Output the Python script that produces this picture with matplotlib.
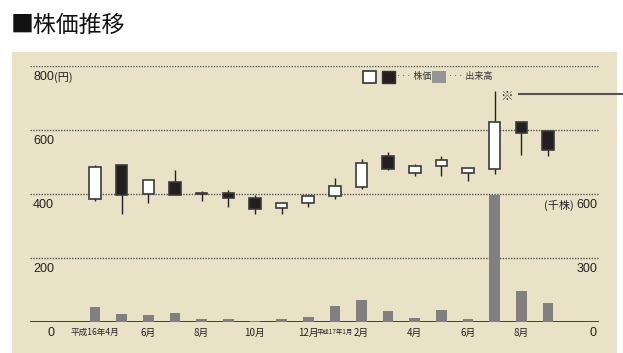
# Stock price (monthly candles) with volume bars, Heisei 16/4 - 17/9
import matplotlib
matplotlib.use("Agg")
import matplotlib.pyplot as plt
import matplotlib.transforms as mtrans
from matplotlib.patches import Rectangle

plt.rcParams['font.family'] = ['Liberation Sans Narrow', 'Liberation Sans', 'Noto Sans CJK JP', 'DejaVu Sans']

# monthly OHLC (yen) and volume (thousand shares)
opens  = [383, 490, 399, 438, 404, 404, 387, 355, 373, 393, 423, 518, 467, 487, 467, 477, 626, 596]
highs  = [490, 490, 445, 475, 409, 412, 397, 373, 394, 449, 509, 530, 495, 520, 480, 722, 626, 596]
lows   = [379, 337, 373, 397, 378, 360, 338, 338, 360, 383, 417, 474, 457, 457, 442, 463, 521, 519]
closes = [485, 397, 445, 397, 401, 387, 353, 373, 394, 426, 497, 478, 489, 505, 480, 625, 592, 537]
volume = [70, 37, 33, 42, 14, 14, 5, 14, 23, 75, 103, 52, 19, 56, 14, 595, 145, 89]

month_pos = [0, 2, 4, 6, 8, 9, 10, 12, 14, 16]
month_lbl = ['平成16年4月', '6月', '8月', '10月', '12月', '平成17年1月', '2月', '4月', '6月', '8月']

price_ticks = [0, 200, 400, 600, 800]
vol_ticks = [0, 300, 600]

W, H = 623, 353
fig = plt.figure(figsize=(W / 100, H / 100), dpi=100)

# background layer in pixel coordinates
bg = fig.add_axes([0, 0, 1, 1], zorder=0)
bg.set_xlim(0, W)
bg.set_ylim(H, 0)
bg.axis('off')
bg.add_patch(Rectangle((12, 52), 605, 301, facecolor='#e9e2c6', edgecolor='none'))
bg.text(11, 25, '■株価推移', fontsize=16.5, va='center', ha='left',
        family=['Noto Sans CJK JP'], color='#111111')

# legend
bg.add_patch(Rectangle((362.5, 70.5), 13.5, 12, facecolor='white', edgecolor='#333333', lw=1.2))
bg.add_patch(Rectangle((381.5, 70.5), 13.5, 12, facecolor='#231f20', edgecolor='#333333', lw=1.0))
bg.text(396.5, 77, '··· 株価', fontsize=6.5, va='center', ha='left', color='#333333',
        family=['Noto Sans CJK JP'])
bg.add_patch(Rectangle((432, 70.5), 13.5, 12, facecolor='#959595', edgecolor='none'))
bg.text(447.5, 77, '··· 出来高', fontsize=6.5, va='center', ha='left', color='#333333',
        family=['Noto Sans CJK JP'])

# main axes
x0, x1, step, c0 = 30, 599, 26.65, 95
ax = fig.add_axes([x0 / W, (H - 322) / H, (x1 - x0) / W, (322 - 66) / H], zorder=2)
ax.patch.set_alpha(0)
ax.set_xlim((x0 - c0) / step, (x1 - c0) / step)
ax.set_ylim(0, 800)
for s in ax.spines.values():
    s.set_visible(False)
ax.set_yticks([])

vax = ax.twinx()
vax.set_ylim(0, 1200)
vax.axis('off')
vax.bar(range(len(volume)), volume, width=0.40, color='#808080', zorder=1)

for y in price_ticks[1:]:
    ax.axhline(y, color='#555555', lw=1.0, ls=(0, (1, 1)), zorder=0)
ax.axhline(0, color='#333333', lw=1.3, zorder=3)

xs = list(range(len(opens)))
ax.vlines(xs, lows, highs, color='#222222', lw=1.0, zorder=2)
for i in xs:
    up = closes[i] >= opens[i]
    lo = min(opens[i], closes[i])
    hgt = max(abs(closes[i] - opens[i]), 2)
    ax.bar(i, hgt, bottom=lo, width=0.43, color='white' if up else '#231f20',
           edgecolor='#3a3a3a', lw=1.2, zorder=3)

# x labels
ax.set_xticks(month_pos, month_lbl)
ax.tick_params(axis='x', length=0, pad=4, labelsize=7, colors='#222222')
for t in ax.get_xticklabels():
    t.set_family(['Liberation Sans Narrow', 'Noto Sans CJK JP'])
    if t.get_text().startswith('平成16'):
        t.set_fontsize(6.2)
    elif t.get_text().startswith('平成17'):
        t.set_fontsize(4.6)

# left price labels
ltr = mtrans.offset_copy(ax.get_yaxis_transform(), fig=fig, y=-8, units='points')
lx = (54 - x0) / (x1 - x0)
for y in price_ticks:
    ax.text(lx, y, str(y), transform=ltr, ha='right', va='center', fontsize=9, color='#222222')
ax.text(lx, 800, '(円)', transform=ltr, ha='left', va='center', fontsize=8, color='#222222',
        family=['Noto Sans CJK JP'])

# right volume labels
rtr = mtrans.offset_copy(vax.get_yaxis_transform(), fig=fig, y=-8, units='points')
rx = (597 - x0) / (x1 - x0)
for v in vol_ticks:
    vax.text(rx, v, str(v), transform=rtr, ha='right', va='center', fontsize=9, color='#222222')
vax.text(rx - 0.04, 600, '(千株)', transform=rtr, ha='right', va='center', fontsize=8,
         color='#222222', family=['Noto Sans CJK JP'])

# note mark
bg.text(507, 96, '※', fontsize=9, ha='center', va='center', color='#333333',
        family=['Noto Sans CJK JP'])
bg.plot([519, 623], [94, 94], color='#555555', lw=1.5)

fig.savefig('out.png', dpi=100)
